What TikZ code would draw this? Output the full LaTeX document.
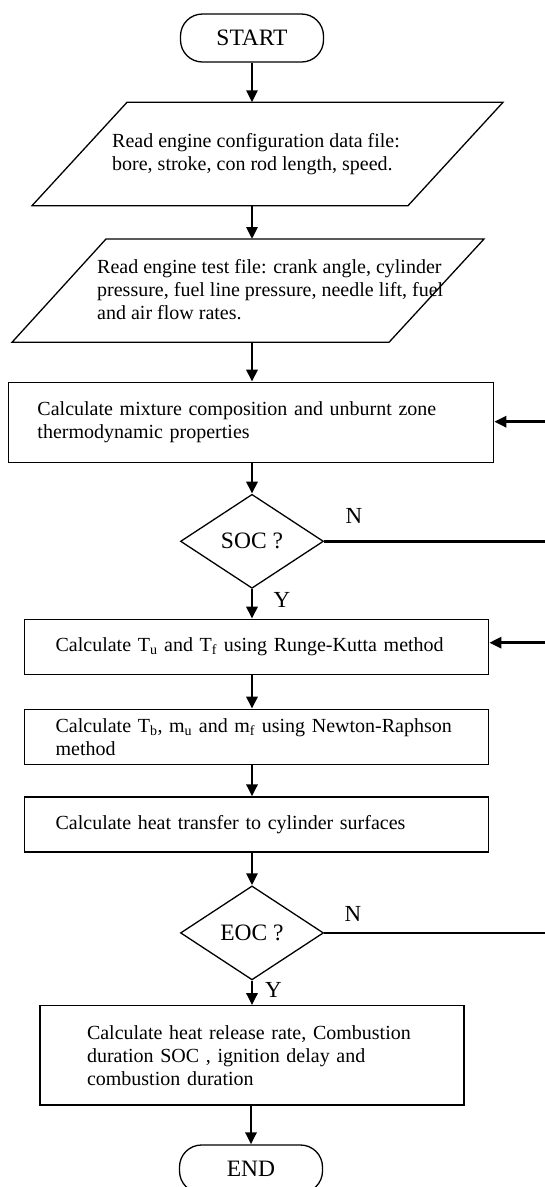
\documentclass[tikz,border=0pt]{standalone}
\usepackage{fontspec}
\setmainfont{Liberation Serif}
\usetikzlibrary{shapes.geometric,arrows.meta,positioning}

\tikzset{
  flow/.style={line width=2.9pt, -{Triangle[length=12pt,width=11pt]}},
  noflow/.style={line width=2.8pt},
  frame/.style={draw, line width=1.3pt},
  terminal/.style={draw, line width=1.3pt, rounded corners=22pt, minimum width=143pt, minimum height=48pt, inner sep=0pt, font=\fontsize{23.5}{27}\selectfont},
  procbox/.style={draw, line width=1.3pt, rectangle, align=left, inner sep=0pt, font=\fontsize{20}{23}\selectfont},
  iotext/.style={align=left, inner sep=0pt, anchor=west, font=\fontsize{20}{23}\selectfont},
  decision/.style={draw, diamond, line width=1.3pt, minimum width=143pt, minimum height=94pt, inner sep=0pt, font=\fontsize{23.5}{27}\selectfont},
  lbl/.style={inner sep=0pt, font=\fontsize{23}{27}\selectfont}
}

\begin{document}
\begin{tikzpicture}[x=1pt,y=-1pt]
\useasboundingbox (0,0) rectangle (545,1187);

\node [terminal] (start) at (252,38) {START};

\draw [frame] (127,102.3) -- (503,102.3) -- (408,205.7) -- (32,205.7) -- cycle;
\node [iotext] (cfg) at (112,154.2) {Read engine configuration data file:\\bore, stroke, con rod length, speed.};
\coordinate (cfgtop) at (252,102.3);
\coordinate (cfgbot) at (252,205.7);

\draw [frame] (106,239) -- (484,239) -- (389,342.3) -- (12,342.3) -- cycle;
\node [iotext] (test) at (97,290) {Read engine test file: crank angle, cylinder\\pressure, fuel line pressure, needle lift, fuel\\and air flow rates.};
\coordinate (testtop) at (252,239);
\coordinate (testbot) at (252,342.3);

\node [procbox, minimum width=485pt, minimum height=80.4pt, text width=427.3pt] (mix) at (251.15,422.5) {Calculate mixture composition and unburnt zone\\thermodynamic properties};
\node [decision] (soc) at (252,541.3) {SOC ?};
\node [lbl] (no1) at (354,516) {N};
\node [lbl] (yes1) at (282,600) {Y};
\node [procbox, minimum width=464.4pt, minimum height=55pt, text width=401.8pt] (rk) at (256.5,646.8) {Calculate T\textsubscript{u} and T\textsubscript{f} using Runge-Kutta method};
\node [procbox, minimum width=464.4pt, minimum height=55pt, text width=401.8pt] (nr) at (256.5,736.8) {Calculate T\textsubscript{b}, m\textsubscript{u} and m\textsubscript{f} using Newton-Raphson\\method};
\node [procbox, minimum width=464.4pt, minimum height=55pt, text width=401.8pt] (heat) at (256.5,824.5) {Calculate heat transfer to cylinder surfaces};
\node [decision] (eoc) at (252,932.9) {EOC ?};
\node [lbl] (no2) at (353,914.3) {N};
\node [lbl] (yes2) at (273.5,990) {Y};
\node [procbox, minimum width=424pt, minimum height=99.3pt, text width=330pt] (hrr) at (252,1055.4) {Calculate heat release rate, Combustion\\duration SOC , ignition delay and\\combustion duration};
\node [terminal] (end) at (251,1169) {END};

\coordinate (socout) at (548,541.3);
\coordinate (eocout) at (548,932.9);
\coordinate (back1) at (548,421.7);
\coordinate (back2) at (548,642.7);

\draw [flow] (start) -- (cfgtop);
\draw [flow] (cfgbot) -- (testtop);
\draw [flow] (testbot) -- (testbot |- mix.north);
\draw [flow] (soc |- mix.south) -- (soc);
\draw [flow] (soc) -- (soc |- rk.north);
\draw [flow] (soc |- rk.south) -- (soc |- nr.north);
\draw [flow] (soc |- nr.south) -- (soc |- heat.north);
\draw [flow] (eoc |- heat.south) -- (eoc);
\draw [flow] (eoc) -- (eoc |- hrr.north);
\draw [flow] (end |- hrr.south) -- (end);
\draw [noflow] (soc) -- (socout);
\draw [noflow] (eoc) -- (eocout);
\draw [flow] (back1) -- (back1 -| mix.east);
\draw [flow] (back2) -- (back2 -| rk.east);
\end{tikzpicture}
\end{document}
